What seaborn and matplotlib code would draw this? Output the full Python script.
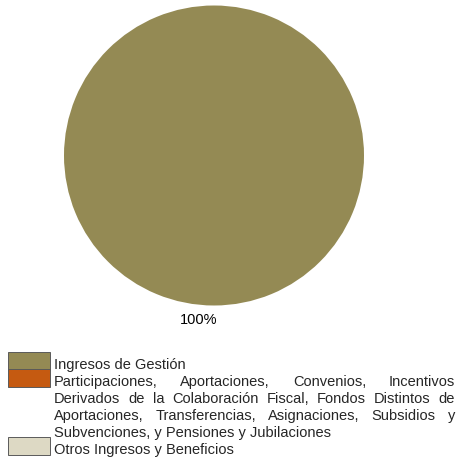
import numpy as np
import matplotlib
matplotlib.use("Agg")
import matplotlib.pyplot as plt
import seaborn as sns
from matplotlib.patches import Rectangle

# Data
categories = [
    "Ingresos de Gestión",
    "Participaciones, Aportaciones, Convenios, Incentivos Derivados de la "
    "Colaboración Fiscal, Fondos Distintos de Aportaciones, Transferencias, "
    "Asignaciones, Subsidios y Subvenciones, y Pensiones y Jubilaciones",
    "Otros Ingresos y Beneficios",
]
values = [100.0, 0.0, 0.0]
colors = ["#948A54", "#C55A11", "#DDD9C4"]

# line breaks of the legend text as in the original
legend_lines = [
    ["Ingresos de Gestión"],
    ["Participaciones, Aportaciones, Convenios, Incentivos",
     "Derivados de la Colaboración Fiscal, Fondos Distintos de",
     "Aportaciones, Transferencias, Asignaciones, Subsidios y",
     "Subvenciones, y Pensiones y Jubilaciones"],
    ["Otros Ingresos y Beneficios"],
]

sns.set_theme(style="white")
plt.rcParams["font.family"] = ["Liberation Sans", "DejaVu Sans"]

W, H = 457, 460
fs = 10.5
fig = plt.figure(figsize=(W / 100, H / 100), dpi=100)
fig.patch.set_facecolor("white")

# pie axes (pixel box -> figure fraction)
cx, cy, r = 214, 156.5, 150
ax = fig.add_axes([(cx - r) / W, (H - cy - r) / H, 2 * r / W, 2 * r / H])
vals = np.array(values)
pct = vals / vals.sum() * 100
labels = [f"{p:.0f}%" if p > 0 else "" for p in pct]
wedges, texts = ax.pie(vals, colors=colors, labels=labels, startangle=90,
                       counterclock=False, labeldistance=1.09,
                       wedgeprops=dict(linewidth=0),
                       textprops=dict(fontsize=fs, color="black"))
for t in texts:
    x, y = t.get_position()
    t.set_position((x - 0.105, y))
    t.set_ha("center")
ax.set_xlim(-1, 1)
ax.set_ylim(-1, 1)
ax.set_aspect("equal")
ax.axis("off")

# legend drawn by hand (justified text like the original)
renderer = fig.canvas.get_renderer()
x0, x1 = 54, 455
line_h = 17
base = 369
box_x, box_w, box_h = 8, 42, 17.5


def px(xp, yp):
    return xp / W, 1 - yp / H


for color, lines in zip(colors, legend_lines):
    top = base - 16
    fig.patches.append(Rectangle(px(box_x, top + box_h), box_w / W, box_h / H,
                                 transform=fig.transFigure,
                                 facecolor=color, edgecolor="#5a5a5a",
                                 linewidth=0.7))
    n = len(lines)
    for i, line in enumerate(lines):
        if i == n - 1:
            fig.text(*px(x0, base), line, fontsize=fs, va="baseline", ha="left")
        else:
            words = line.split(" ")
            tmp = [fig.text(0, 0, w_, fontsize=fs) for w_ in words]
            widths = [t.get_window_extent(renderer).width for t in tmp]
            for t in tmp:
                t.remove()
            gap = (x1 - x0 - sum(widths)) / (len(words) - 1)
            xp = x0
            for w_, wd in zip(words, widths):
                fig.text(*px(xp, base), w_, fontsize=fs, va="baseline", ha="left")
                xp += wd + gap
        base += line_h

fig.savefig("out.png", dpi=100, facecolor="white")
